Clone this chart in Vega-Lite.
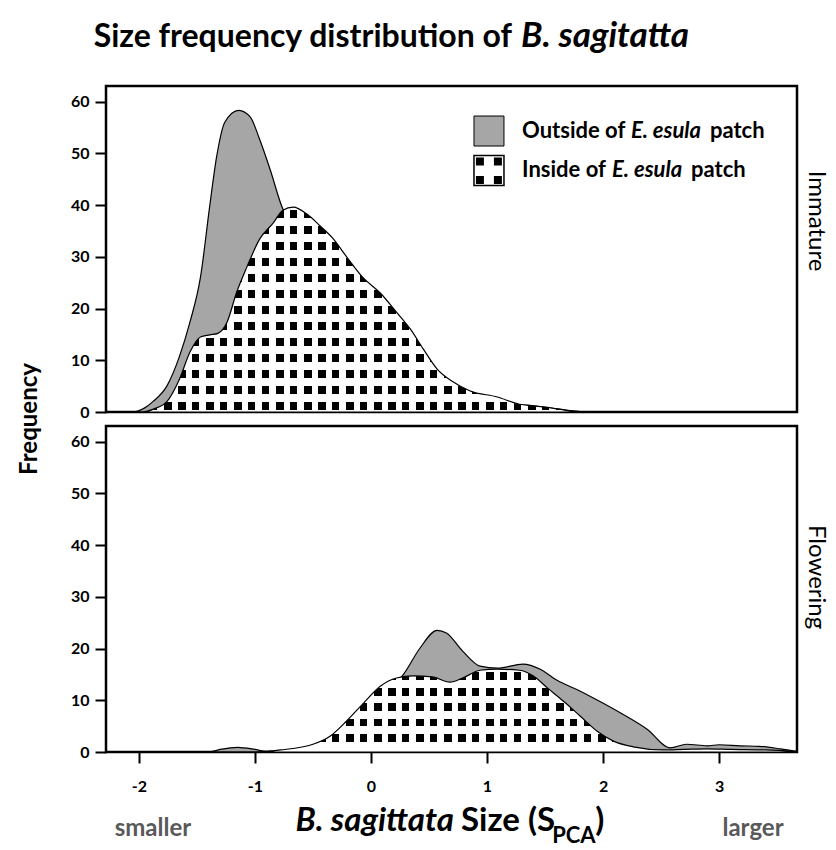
{
"$schema": "https://vega.github.io/schema/vega-lite/v6.json",
"background": "white",
"padding": {"left": 16, "top": 17, "right": 12, "bottom": 4},
"spacing": 14,
"bounds": "flush",
"config": {
  "font": "Lato",
  "view": {"stroke": "black", "strokeWidth": 2.5},
  "axis": {"labelFont": "Lato", "labelFontWeight": "bold", "labelFontSize": 16, "labelColor": "black", "tickColor": "black", "tickWidth": 2, "tickSize": 11, "domain": false, "grid": false, "title": null},
  "text": {"font": "Lato"}
},
"datasets": {
  "imm": [
    {"g":"Outside","x":-2.284,"y":0},{"g":"Outside","x":-2.05,"y":0},{"g":"Outside","x":-1.95,"y":0.8},{"g":"Outside","x":-1.88,"y":2},{"g":"Outside","x":-1.76,"y":5},{"g":"Outside","x":-1.65,"y":10.8},{"g":"Outside","x":-1.56,"y":17.4},{"g":"Outside","x":-1.47,"y":26},{"g":"Outside","x":-1.39,"y":39.8},{"g":"Outside","x":-1.33,"y":49.4},{"g":"Outside","x":-1.26,"y":56},{"g":"Outside","x":-1.14,"y":58.3},{"g":"Outside","x":-1.04,"y":57},{"g":"Outside","x":-0.96,"y":52.7},{"g":"Outside","x":-0.87,"y":46.9},{"g":"Outside","x":-0.77,"y":39.8},{"g":"Outside","x":-0.6,"y":33},{"g":"Outside","x":-0.4,"y":27},{"g":"Outside","x":-0.2,"y":22},{"g":"Outside","x":0,"y":18},{"g":"Outside","x":0.2,"y":13},{"g":"Outside","x":0.4,"y":9},{"g":"Outside","x":0.6,"y":5.5},{"g":"Outside","x":0.8,"y":3.5},{"g":"Outside","x":1.0,"y":2.5},{"g":"Outside","x":1.2,"y":1.5},{"g":"Outside","x":1.4,"y":1.2},{"g":"Outside","x":1.6,"y":0.6},{"g":"Outside","x":1.8,"y":0.1},{"g":"Outside","x":2.0,"y":0},{"g":"Outside","x":3.672,"y":0},
    {"g":"Inside","x":-2.284,"y":0},{"g":"Inside","x":-1.97,"y":0},{"g":"Inside","x":-1.87,"y":0.6},{"g":"Inside","x":-1.76,"y":2},{"g":"Inside","x":-1.65,"y":6.4},{"g":"Inside","x":-1.56,"y":11.6},{"g":"Inside","x":-1.47,"y":14.5},{"g":"Inside","x":-1.39,"y":14.9},{"g":"Inside","x":-1.32,"y":15.2},{"g":"Inside","x":-1.24,"y":17.4},{"g":"Inside","x":-1.16,"y":23},{"g":"Inside","x":-1.07,"y":28},{"g":"Inside","x":-0.96,"y":33.4},{"g":"Inside","x":-0.84,"y":36.6},{"g":"Inside","x":-0.76,"y":39},{"g":"Inside","x":-0.67,"y":39.6},{"g":"Inside","x":-0.55,"y":38.2},{"g":"Inside","x":-0.44,"y":36},{"g":"Inside","x":-0.33,"y":33.6},{"g":"Inside","x":-0.21,"y":30},{"g":"Inside","x":-0.07,"y":26},{"g":"Inside","x":0.08,"y":23},{"g":"Inside","x":0.22,"y":19.3},{"g":"Inside","x":0.34,"y":16},{"g":"Inside","x":0.45,"y":12.2},{"g":"Inside","x":0.57,"y":8.3},{"g":"Inside","x":0.71,"y":5.8},{"g":"Inside","x":0.85,"y":4.1},{"g":"Inside","x":1.09,"y":2.9},{"g":"Inside","x":1.28,"y":1.5},{"g":"Inside","x":1.4,"y":1.2},{"g":"Inside","x":1.52,"y":0.9},{"g":"Inside","x":1.72,"y":0.2},{"g":"Inside","x":1.8,"y":0},{"g":"Inside","x":3.672,"y":0}
  ],
  "flw": [
    {"g":"Outside","x":-2.284,"y":0},{"g":"Outside","x":-1.4,"y":0},{"g":"Outside","x":-1.3,"y":0.5},{"g":"Outside","x":-1.15,"y":0.9},{"g":"Outside","x":-1.0,"y":0.5},{"g":"Outside","x":-0.9,"y":0.1},{"g":"Outside","x":-0.8,"y":0.2},{"g":"Outside","x":-0.5,"y":1},{"g":"Outside","x":-0.2,"y":4},{"g":"Outside","x":0,"y":8},{"g":"Outside","x":0.15,"y":12},{"g":"Outside","x":0.28,"y":15},{"g":"Outside","x":0.42,"y":20},{"g":"Outside","x":0.57,"y":23.5},{"g":"Outside","x":0.65,"y":23},{"g":"Outside","x":0.79,"y":19.5},{"g":"Outside","x":0.94,"y":16.6},{"g":"Outside","x":1.09,"y":16.2},{"g":"Outside","x":1.31,"y":17},{"g":"Outside","x":1.46,"y":16},{"g":"Outside","x":1.6,"y":13.9},{"g":"Outside","x":1.8,"y":11.8},{"g":"Outside","x":1.97,"y":9.8},{"g":"Outside","x":2.17,"y":7.3},{"g":"Outside","x":2.38,"y":4.4},{"g":"Outside","x":2.58,"y":0.8},{"g":"Outside","x":2.72,"y":1.5},{"g":"Outside","x":2.9,"y":1.2},{"g":"Outside","x":3.0,"y":1.4},{"g":"Outside","x":3.18,"y":1.2},{"g":"Outside","x":3.35,"y":1.1},{"g":"Outside","x":3.53,"y":0.6},{"g":"Outside","x":3.672,"y":0.1},
    {"g":"Inside","x":-2.284,"y":0},{"g":"Inside","x":-1.0,"y":0},{"g":"Inside","x":-0.78,"y":0.4},{"g":"Inside","x":-0.5,"y":1.5},{"g":"Inside","x":-0.35,"y":3.1},{"g":"Inside","x":-0.21,"y":6},{"g":"Inside","x":-0.07,"y":9.3},{"g":"Inside","x":0.08,"y":12.7},{"g":"Inside","x":0.22,"y":14.3},{"g":"Inside","x":0.36,"y":14.7},{"g":"Inside","x":0.53,"y":14.5},{"g":"Inside","x":0.68,"y":13.5},{"g":"Inside","x":0.79,"y":14.3},{"g":"Inside","x":0.94,"y":15.8},{"g":"Inside","x":1.09,"y":16},{"g":"Inside","x":1.28,"y":15.8},{"g":"Inside","x":1.4,"y":14.7},{"g":"Inside","x":1.52,"y":12.4},{"g":"Inside","x":1.66,"y":9.8},{"g":"Inside","x":1.8,"y":7},{"g":"Inside","x":1.95,"y":4},{"g":"Inside","x":2.09,"y":2.1},{"g":"Inside","x":2.26,"y":1},{"g":"Inside","x":2.52,"y":0.4},{"g":"Inside","x":2.7,"y":0.5},{"g":"Inside","x":2.9,"y":0.6},{"g":"Inside","x":3.1,"y":0.5},{"g":"Inside","x":3.4,"y":0.4},{"g":"Inside","x":3.672,"y":0.1}
  ]
},
"vconcat": [
{
  "width": 691, "height": 326,
  "layer": [
    {"data": {"name": "imm"}, "transform": [{"filter": "datum.g === 'Outside'"}],
     "mark": {"type": "area", "interpolate": "monotone", "fill": "#a6a6a6", "stroke": "black", "strokeWidth": 1.2},
     "encoding": {
       "x": {"field": "x", "type": "quantitative", "scale": {"domain": [-2.284, 3.672], "nice": false, "zero": false}, "axis": null},
       "y": {"field": "y", "type": "quantitative", "scale": {"domain": [0, 63], "nice": false}, "axis": {"values": [0,10,20,30,40,50,60], "labelPadding": 6}}
     }},
    {"data": {"name": "imm"}, "transform": [{"filter": "datum.g === 'Inside'"}],
     "mark": {"type": "area", "interpolate": "monotone", "strokeWidth": 0,
       "fill": {"gradient": "linear", "x1": 0, "y1": 1, "x2": 0, "y2": 0, "stops": [
         {"offset":0,"color":"white"},
         {"offset":0.0112,"color":"white"},{"offset":0.0112,"color":"black"},{"offset":0.0503,"color":"black"},{"offset":0.0503,"color":"white"},
         {"offset":0.0893,"color":"white"},{"offset":0.0893,"color":"black"},{"offset":0.1284,"color":"black"},{"offset":0.1284,"color":"white"},
         {"offset":0.1674,"color":"white"},{"offset":0.1674,"color":"black"},{"offset":0.2064,"color":"black"},{"offset":0.2064,"color":"white"},
         {"offset":0.2455,"color":"white"},{"offset":0.2455,"color":"black"},{"offset":0.2845,"color":"black"},{"offset":0.2845,"color":"white"},
         {"offset":0.3236,"color":"white"},{"offset":0.3236,"color":"black"},{"offset":0.3626,"color":"black"},{"offset":0.3626,"color":"white"},
         {"offset":0.4017,"color":"white"},{"offset":0.4017,"color":"black"},{"offset":0.4407,"color":"black"},{"offset":0.4407,"color":"white"},
         {"offset":0.4798,"color":"white"},{"offset":0.4798,"color":"black"},{"offset":0.5188,"color":"black"},{"offset":0.5188,"color":"white"},
         {"offset":0.5579,"color":"white"},{"offset":0.5579,"color":"black"},{"offset":0.5969,"color":"black"},{"offset":0.5969,"color":"white"},
         {"offset":0.6359,"color":"white"},{"offset":0.6359,"color":"black"},{"offset":0.6750,"color":"black"},{"offset":0.6750,"color":"white"},
         {"offset":0.7140,"color":"white"},{"offset":0.7140,"color":"black"},{"offset":0.7531,"color":"black"},{"offset":0.7531,"color":"white"},
         {"offset":0.7921,"color":"white"},{"offset":0.7921,"color":"black"},{"offset":0.8312,"color":"black"},{"offset":0.8312,"color":"white"},
         {"offset":0.8702,"color":"white"},{"offset":0.8702,"color":"black"},{"offset":0.9092,"color":"black"},{"offset":0.9092,"color":"white"},
         {"offset":0.9483,"color":"white"},{"offset":0.9483,"color":"black"},{"offset":0.9873,"color":"black"},{"offset":0.9873,"color":"white"},
         {"offset":1,"color":"white"}]}},
     "encoding": {"x": {"field": "x", "type": "quantitative"}, "y": {"field": "y", "type": "quantitative"}}},
    {"data": {"name": "imm"}, "transform": [{"filter": "datum.g === 'Inside'"}],
     "mark": {"type": "area", "interpolate": "monotone", "stroke": "black", "strokeWidth": 1.2,
       "fill": {"gradient": "linear", "x1": 0, "y1": 0, "x2": 1, "y2": 0, "stops": [
         {"offset":0,"color":"white"},
         {"offset":0.0029,"color":"white"},{"offset":0.0029,"color":"rgba(255,255,255,0)"},{"offset":0.0137,"color":"rgba(255,255,255,0)"},{"offset":0.0137,"color":"white"},
         {"offset":0.0232,"color":"white"},{"offset":0.0232,"color":"rgba(255,255,255,0)"},{"offset":0.0340,"color":"rgba(255,255,255,0)"},{"offset":0.0340,"color":"white"},
         {"offset":0.0434,"color":"white"},{"offset":0.0434,"color":"rgba(255,255,255,0)"},{"offset":0.0543,"color":"rgba(255,255,255,0)"},{"offset":0.0543,"color":"white"},
         {"offset":0.0637,"color":"white"},{"offset":0.0637,"color":"rgba(255,255,255,0)"},{"offset":0.0745,"color":"rgba(255,255,255,0)"},{"offset":0.0745,"color":"white"},
         {"offset":0.0839,"color":"white"},{"offset":0.0839,"color":"rgba(255,255,255,0)"},{"offset":0.0948,"color":"rgba(255,255,255,0)"},{"offset":0.0948,"color":"white"},
         {"offset":0.1042,"color":"white"},{"offset":0.1042,"color":"rgba(255,255,255,0)"},{"offset":0.1151,"color":"rgba(255,255,255,0)"},{"offset":0.1151,"color":"white"},
         {"offset":0.1245,"color":"white"},{"offset":0.1245,"color":"rgba(255,255,255,0)"},{"offset":0.1353,"color":"rgba(255,255,255,0)"},{"offset":0.1353,"color":"white"},
         {"offset":0.1447,"color":"white"},{"offset":0.1447,"color":"rgba(255,255,255,0)"},{"offset":0.1556,"color":"rgba(255,255,255,0)"},{"offset":0.1556,"color":"white"},
         {"offset":0.1650,"color":"white"},{"offset":0.1650,"color":"rgba(255,255,255,0)"},{"offset":0.1758,"color":"rgba(255,255,255,0)"},{"offset":0.1758,"color":"white"},
         {"offset":0.1852,"color":"white"},{"offset":0.1852,"color":"rgba(255,255,255,0)"},{"offset":0.1961,"color":"rgba(255,255,255,0)"},{"offset":0.1961,"color":"white"},
         {"offset":0.2055,"color":"white"},{"offset":0.2055,"color":"rgba(255,255,255,0)"},{"offset":0.2163,"color":"rgba(255,255,255,0)"},{"offset":0.2163,"color":"white"},
         {"offset":0.2258,"color":"white"},{"offset":0.2258,"color":"rgba(255,255,255,0)"},{"offset":0.2366,"color":"rgba(255,255,255,0)"},{"offset":0.2366,"color":"white"},
         {"offset":0.2460,"color":"white"},{"offset":0.2460,"color":"rgba(255,255,255,0)"},{"offset":0.2569,"color":"rgba(255,255,255,0)"},{"offset":0.2569,"color":"white"},
         {"offset":0.2663,"color":"white"},{"offset":0.2663,"color":"rgba(255,255,255,0)"},{"offset":0.2771,"color":"rgba(255,255,255,0)"},{"offset":0.2771,"color":"white"},
         {"offset":0.2865,"color":"white"},{"offset":0.2865,"color":"rgba(255,255,255,0)"},{"offset":0.2974,"color":"rgba(255,255,255,0)"},{"offset":0.2974,"color":"white"},
         {"offset":0.3068,"color":"white"},{"offset":0.3068,"color":"rgba(255,255,255,0)"},{"offset":0.3177,"color":"rgba(255,255,255,0)"},{"offset":0.3177,"color":"white"},
         {"offset":0.3271,"color":"white"},{"offset":0.3271,"color":"rgba(255,255,255,0)"},{"offset":0.3379,"color":"rgba(255,255,255,0)"},{"offset":0.3379,"color":"white"},
         {"offset":0.3473,"color":"white"},{"offset":0.3473,"color":"rgba(255,255,255,0)"},{"offset":0.3582,"color":"rgba(255,255,255,0)"},{"offset":0.3582,"color":"white"},
         {"offset":0.3676,"color":"white"},{"offset":0.3676,"color":"rgba(255,255,255,0)"},{"offset":0.3784,"color":"rgba(255,255,255,0)"},{"offset":0.3784,"color":"white"},
         {"offset":0.3878,"color":"white"},{"offset":0.3878,"color":"rgba(255,255,255,0)"},{"offset":0.3987,"color":"rgba(255,255,255,0)"},{"offset":0.3987,"color":"white"},
         {"offset":0.4081,"color":"white"},{"offset":0.4081,"color":"rgba(255,255,255,0)"},{"offset":0.4190,"color":"rgba(255,255,255,0)"},{"offset":0.4190,"color":"white"},
         {"offset":0.4284,"color":"white"},{"offset":0.4284,"color":"rgba(255,255,255,0)"},{"offset":0.4392,"color":"rgba(255,255,255,0)"},{"offset":0.4392,"color":"white"},
         {"offset":0.4486,"color":"white"},{"offset":0.4486,"color":"rgba(255,255,255,0)"},{"offset":0.4595,"color":"rgba(255,255,255,0)"},{"offset":0.4595,"color":"white"},
         {"offset":0.4689,"color":"white"},{"offset":0.4689,"color":"rgba(255,255,255,0)"},{"offset":0.4797,"color":"rgba(255,255,255,0)"},{"offset":0.4797,"color":"white"},
         {"offset":0.4891,"color":"white"},{"offset":0.4891,"color":"rgba(255,255,255,0)"},{"offset":0.5000,"color":"rgba(255,255,255,0)"},{"offset":0.5000,"color":"white"},
         {"offset":0.5094,"color":"white"},{"offset":0.5094,"color":"rgba(255,255,255,0)"},{"offset":0.5203,"color":"rgba(255,255,255,0)"},{"offset":0.5203,"color":"white"},
         {"offset":0.5297,"color":"white"},{"offset":0.5297,"color":"rgba(255,255,255,0)"},{"offset":0.5405,"color":"rgba(255,255,255,0)"},{"offset":0.5405,"color":"white"},
         {"offset":0.5499,"color":"white"},{"offset":0.5499,"color":"rgba(255,255,255,0)"},{"offset":0.5608,"color":"rgba(255,255,255,0)"},{"offset":0.5608,"color":"white"},
         {"offset":0.5702,"color":"white"},{"offset":0.5702,"color":"rgba(255,255,255,0)"},{"offset":0.5810,"color":"rgba(255,255,255,0)"},{"offset":0.5810,"color":"white"},
         {"offset":0.5904,"color":"white"},{"offset":0.5904,"color":"rgba(255,255,255,0)"},{"offset":0.6013,"color":"rgba(255,255,255,0)"},{"offset":0.6013,"color":"white"},
         {"offset":0.6107,"color":"white"},{"offset":0.6107,"color":"rgba(255,255,255,0)"},{"offset":0.6216,"color":"rgba(255,255,255,0)"},{"offset":0.6216,"color":"white"},
         {"offset":0.6310,"color":"white"},{"offset":0.6310,"color":"rgba(255,255,255,0)"},{"offset":0.6418,"color":"rgba(255,255,255,0)"},{"offset":0.6418,"color":"white"},
         {"offset":0.6512,"color":"white"},{"offset":0.6512,"color":"rgba(255,255,255,0)"},{"offset":0.6621,"color":"rgba(255,255,255,0)"},{"offset":0.6621,"color":"white"},
         {"offset":0.6715,"color":"white"},{"offset":0.6715,"color":"rgba(255,255,255,0)"},{"offset":0.6823,"color":"rgba(255,255,255,0)"},{"offset":0.6823,"color":"white"},
         {"offset":0.6918,"color":"white"},{"offset":0.6918,"color":"rgba(255,255,255,0)"},{"offset":0.7026,"color":"rgba(255,255,255,0)"},{"offset":0.7026,"color":"white"},
         {"offset":0.7120,"color":"white"},{"offset":0.7120,"color":"rgba(255,255,255,0)"},{"offset":0.7229,"color":"rgba(255,255,255,0)"},{"offset":0.7229,"color":"white"},
         {"offset":0.7323,"color":"white"},{"offset":0.7323,"color":"rgba(255,255,255,0)"},{"offset":0.7431,"color":"rgba(255,255,255,0)"},{"offset":0.7431,"color":"white"},
         {"offset":0.7525,"color":"white"},{"offset":0.7525,"color":"rgba(255,255,255,0)"},{"offset":0.7634,"color":"rgba(255,255,255,0)"},{"offset":0.7634,"color":"white"},
         {"offset":0.7728,"color":"white"},{"offset":0.7728,"color":"rgba(255,255,255,0)"},{"offset":0.7836,"color":"rgba(255,255,255,0)"},{"offset":0.7836,"color":"white"},
         {"offset":0.7931,"color":"white"},{"offset":0.7931,"color":"rgba(255,255,255,0)"},{"offset":0.8039,"color":"rgba(255,255,255,0)"},{"offset":0.8039,"color":"white"},
         {"offset":0.8133,"color":"white"},{"offset":0.8133,"color":"rgba(255,255,255,0)"},{"offset":0.8242,"color":"rgba(255,255,255,0)"},{"offset":0.8242,"color":"white"},
         {"offset":0.8336,"color":"white"},{"offset":0.8336,"color":"rgba(255,255,255,0)"},{"offset":0.8444,"color":"rgba(255,255,255,0)"},{"offset":0.8444,"color":"white"},
         {"offset":0.8538,"color":"white"},{"offset":0.8538,"color":"rgba(255,255,255,0)"},{"offset":0.8647,"color":"rgba(255,255,255,0)"},{"offset":0.8647,"color":"white"},
         {"offset":0.8741,"color":"white"},{"offset":0.8741,"color":"rgba(255,255,255,0)"},{"offset":0.8850,"color":"rgba(255,255,255,0)"},{"offset":0.8850,"color":"white"},
         {"offset":0.8944,"color":"white"},{"offset":0.8944,"color":"rgba(255,255,255,0)"},{"offset":0.9052,"color":"rgba(255,255,255,0)"},{"offset":0.9052,"color":"white"},
         {"offset":0.9146,"color":"white"},{"offset":0.9146,"color":"rgba(255,255,255,0)"},{"offset":0.9255,"color":"rgba(255,255,255,0)"},{"offset":0.9255,"color":"white"},
         {"offset":0.9349,"color":"white"},{"offset":0.9349,"color":"rgba(255,255,255,0)"},{"offset":0.9457,"color":"rgba(255,255,255,0)"},{"offset":0.9457,"color":"white"},
         {"offset":0.9551,"color":"white"},{"offset":0.9551,"color":"rgba(255,255,255,0)"},{"offset":0.9660,"color":"rgba(255,255,255,0)"},{"offset":0.9660,"color":"white"},
         {"offset":0.9754,"color":"white"},{"offset":0.9754,"color":"rgba(255,255,255,0)"},{"offset":0.9863,"color":"rgba(255,255,255,0)"},{"offset":0.9863,"color":"white"},
         {"offset":0.9957,"color":"white"},{"offset":0.9957,"color":"rgba(255,255,255,0)"},{"offset":1,"color":"rgba(255,255,255,0)"}]}},
     "encoding": {"x": {"field": "x", "type": "quantitative"}, "y": {"field": "y", "type": "quantitative"}}},
    {"data": {"values": [{}]}, "mark": {"type": "point", "shape": "square", "size": 900, "filled": true, "fill": "#a6a6a6", "stroke": "black", "strokeWidth": 1, "opacity": 1},
     "encoding": {"x": {"datum": 1.017, "type": "quantitative"}, "y": {"datum": 54.3, "type": "quantitative"}}},
    {"data": {"values": [{}]}, "mark": {"type": "point", "shape": "square", "size": 900, "filled": true, "fill": "white", "stroke": "black", "strokeWidth": 1.5, "opacity": 1},
     "encoding": {"x": {"datum": 1.017, "type": "quantitative"}, "y": {"datum": 46.67, "type": "quantitative"}}},
    {"data": {"values": [{}]}, "mark": {"type": "point", "shape": "square", "size": 64, "filled": true, "fill": "black", "opacity": 1},
     "encoding": {"x": {"datum": 0.939, "type": "quantitative"}, "y": {"datum": 48.41, "type": "quantitative"}}},
    {"data": {"values": [{}]}, "mark": {"type": "point", "shape": "square", "size": 64, "filled": true, "fill": "black", "opacity": 1},
     "encoding": {"x": {"datum": 1.094, "type": "quantitative"}, "y": {"datum": 48.41, "type": "quantitative"}}},
    {"data": {"values": [{}]}, "mark": {"type": "point", "shape": "square", "size": 64, "filled": true, "fill": "black", "opacity": 1},
     "encoding": {"x": {"datum": 0.939, "type": "quantitative"}, "y": {"datum": 44.83, "type": "quantitative"}}},
    {"data": {"values": [{}]}, "mark": {"type": "point", "shape": "square", "size": 64, "filled": true, "fill": "black", "opacity": 1},
     "encoding": {"x": {"datum": 1.094, "type": "quantitative"}, "y": {"datum": 44.83, "type": "quantitative"}}},
    {"data": {"values": [{}]}, "mark": {"type": "text", "text": "Outside of", "align": "left", "baseline": "middle", "fontSize": 22, "fontWeight": "bold"},
     "encoding": {"x": {"datum": 1.302, "type": "quantitative"}, "y": {"datum": 54.3, "type": "quantitative"}}},
    {"data": {"values": [{}]}, "mark": {"type": "text", "text": "E. esula", "align": "left", "baseline": "middle", "fontSize": 22, "fontWeight": "bold", "fontStyle": "italic"},
     "encoding": {"x": {"datum": 2.241, "type": "quantitative"}, "y": {"datum": 54.3, "type": "quantitative"}}},
    {"data": {"values": [{}]}, "mark": {"type": "text", "text": "patch", "align": "left", "baseline": "middle", "fontSize": 22, "fontWeight": "bold"},
     "encoding": {"x": {"datum": 2.922, "type": "quantitative"}, "y": {"datum": 54.3, "type": "quantitative"}}},
    {"data": {"values": [{}]}, "mark": {"type": "text", "text": "Inside of", "align": "left", "baseline": "middle", "fontSize": 22, "fontWeight": "bold"},
     "encoding": {"x": {"datum": 1.302, "type": "quantitative"}, "y": {"datum": 46.77, "type": "quantitative"}}},
    {"data": {"values": [{}]}, "mark": {"type": "text", "text": "E. esula", "align": "left", "baseline": "middle", "fontSize": 22, "fontWeight": "bold", "fontStyle": "italic"},
     "encoding": {"x": {"datum": 2.078, "type": "quantitative"}, "y": {"datum": 46.77, "type": "quantitative"}}},
    {"data": {"values": [{}]}, "mark": {"type": "text", "text": "patch", "align": "left", "baseline": "middle", "fontSize": 22, "fontWeight": "bold"},
     "encoding": {"x": {"datum": 2.759, "type": "quantitative"}, "y": {"datum": 46.77, "type": "quantitative"}}},
    {"data": {"values": [{}]}, "mark": {"type": "text", "text": "Size frequency distribution of", "align": "right", "baseline": "alphabetic", "fontSize": 32, "fontWeight": "bold"},
     "encoding": {"x": {"datum": 1.2155, "type": "quantitative"}, "y": {"datum": 70.5, "type": "quantitative"}}},
    {"data": {"values": [{}]}, "mark": {"type": "text", "text": "B. sagitatta", "align": "left", "baseline": "alphabetic", "fontSize": 35, "fontWeight": "bold", "fontStyle": "italic"},
     "encoding": {"x": {"datum": 1.293, "type": "quantitative"}, "y": {"datum": 70.5, "type": "quantitative"}}},
    {"data": {"values": [{}]}, "mark": {"type": "text", "text": "Frequency", "align": "center", "baseline": "middle", "angle": 270, "fontSize": 24, "fontWeight": "bold"},
     "encoding": {"x": {"datum": -2.94, "type": "quantitative"}, "y": {"datum": -1.35, "type": "quantitative"}}},
    {"data": {"values": [{}]}, "mark": {"type": "text", "text": "Immature", "align": "center", "baseline": "middle", "angle": 90, "fontSize": 24},
     "encoding": {"x": {"datum": 3.84, "type": "quantitative"}, "y": {"datum": 36.9, "type": "quantitative"}}}
  ]
},
{
  "width": 691, "height": 326,
  "layer": [
    {"data": {"name": "flw"}, "transform": [{"filter": "datum.g === 'Outside'"}],
     "mark": {"type": "area", "interpolate": "monotone", "fill": "#a6a6a6", "stroke": "black", "strokeWidth": 1.2},
     "encoding": {
       "x": {"field": "x", "type": "quantitative", "scale": {"domain": [-2.284, 3.672], "nice": false, "zero": false}, "axis": {"values": [-2,-1,0,1,2,3], "labelExpr": "'' + datum.value", "labelPadding": 15, "labelFontSize": 16}},
       "y": {"field": "y", "type": "quantitative", "scale": {"domain": [0, 63], "nice": false}, "axis": {"values": [0,10,20,30,40,50,60], "labelPadding": 6}}
     }},
    {"data": {"name": "flw"}, "transform": [{"filter": "datum.g === 'Inside'"}],
     "mark": {"type": "area", "interpolate": "monotone", "strokeWidth": 0,
       "fill": {"gradient": "linear", "x1": 0, "y1": 1, "x2": 0, "y2": 0, "stops": [
         {"offset":0,"color":"white"},
         {"offset":0.1208,"color":"white"},{"offset":0.1208,"color":"black"},{"offset":0.2174,"color":"black"},{"offset":0.2174,"color":"white"},
         {"offset":0.3080,"color":"white"},{"offset":0.3080,"color":"black"},{"offset":0.4046,"color":"black"},{"offset":0.4046,"color":"white"},
         {"offset":0.4952,"color":"white"},{"offset":0.4952,"color":"black"},{"offset":0.5918,"color":"black"},{"offset":0.5918,"color":"white"},
         {"offset":0.6824,"color":"white"},{"offset":0.6824,"color":"black"},{"offset":0.7790,"color":"black"},{"offset":0.7790,"color":"white"},
         {"offset":0.8696,"color":"white"},{"offset":0.8696,"color":"black"},{"offset":0.9662,"color":"black"},{"offset":0.9662,"color":"white"},
         {"offset":1,"color":"white"}]}},
     "encoding": {"x": {"field": "x", "type": "quantitative"}, "y": {"field": "y", "type": "quantitative"}}},
    {"data": {"name": "flw"}, "transform": [{"filter": "datum.g === 'Inside'"}],
     "mark": {"type": "area", "interpolate": "monotone", "stroke": "black", "strokeWidth": 1.2,
       "fill": {"gradient": "linear", "x1": 0, "y1": 0, "x2": 1, "y2": 0, "stops": [
         {"offset":0,"color":"white"},
         {"offset":0.0029,"color":"white"},{"offset":0.0029,"color":"rgba(255,255,255,0)"},{"offset":0.0137,"color":"rgba(255,255,255,0)"},{"offset":0.0137,"color":"white"},
         {"offset":0.0232,"color":"white"},{"offset":0.0232,"color":"rgba(255,255,255,0)"},{"offset":0.0340,"color":"rgba(255,255,255,0)"},{"offset":0.0340,"color":"white"},
         {"offset":0.0434,"color":"white"},{"offset":0.0434,"color":"rgba(255,255,255,0)"},{"offset":0.0543,"color":"rgba(255,255,255,0)"},{"offset":0.0543,"color":"white"},
         {"offset":0.0637,"color":"white"},{"offset":0.0637,"color":"rgba(255,255,255,0)"},{"offset":0.0745,"color":"rgba(255,255,255,0)"},{"offset":0.0745,"color":"white"},
         {"offset":0.0839,"color":"white"},{"offset":0.0839,"color":"rgba(255,255,255,0)"},{"offset":0.0948,"color":"rgba(255,255,255,0)"},{"offset":0.0948,"color":"white"},
         {"offset":0.1042,"color":"white"},{"offset":0.1042,"color":"rgba(255,255,255,0)"},{"offset":0.1151,"color":"rgba(255,255,255,0)"},{"offset":0.1151,"color":"white"},
         {"offset":0.1245,"color":"white"},{"offset":0.1245,"color":"rgba(255,255,255,0)"},{"offset":0.1353,"color":"rgba(255,255,255,0)"},{"offset":0.1353,"color":"white"},
         {"offset":0.1447,"color":"white"},{"offset":0.1447,"color":"rgba(255,255,255,0)"},{"offset":0.1556,"color":"rgba(255,255,255,0)"},{"offset":0.1556,"color":"white"},
         {"offset":0.1650,"color":"white"},{"offset":0.1650,"color":"rgba(255,255,255,0)"},{"offset":0.1758,"color":"rgba(255,255,255,0)"},{"offset":0.1758,"color":"white"},
         {"offset":0.1852,"color":"white"},{"offset":0.1852,"color":"rgba(255,255,255,0)"},{"offset":0.1961,"color":"rgba(255,255,255,0)"},{"offset":0.1961,"color":"white"},
         {"offset":0.2055,"color":"white"},{"offset":0.2055,"color":"rgba(255,255,255,0)"},{"offset":0.2163,"color":"rgba(255,255,255,0)"},{"offset":0.2163,"color":"white"},
         {"offset":0.2258,"color":"white"},{"offset":0.2258,"color":"rgba(255,255,255,0)"},{"offset":0.2366,"color":"rgba(255,255,255,0)"},{"offset":0.2366,"color":"white"},
         {"offset":0.2460,"color":"white"},{"offset":0.2460,"color":"rgba(255,255,255,0)"},{"offset":0.2569,"color":"rgba(255,255,255,0)"},{"offset":0.2569,"color":"white"},
         {"offset":0.2663,"color":"white"},{"offset":0.2663,"color":"rgba(255,255,255,0)"},{"offset":0.2771,"color":"rgba(255,255,255,0)"},{"offset":0.2771,"color":"white"},
         {"offset":0.2865,"color":"white"},{"offset":0.2865,"color":"rgba(255,255,255,0)"},{"offset":0.2974,"color":"rgba(255,255,255,0)"},{"offset":0.2974,"color":"white"},
         {"offset":0.3068,"color":"white"},{"offset":0.3068,"color":"rgba(255,255,255,0)"},{"offset":0.3177,"color":"rgba(255,255,255,0)"},{"offset":0.3177,"color":"white"},
         {"offset":0.3271,"color":"white"},{"offset":0.3271,"color":"rgba(255,255,255,0)"},{"offset":0.3379,"color":"rgba(255,255,255,0)"},{"offset":0.3379,"color":"white"},
         {"offset":0.3473,"color":"white"},{"offset":0.3473,"color":"rgba(255,255,255,0)"},{"offset":0.3582,"color":"rgba(255,255,255,0)"},{"offset":0.3582,"color":"white"},
         {"offset":0.3676,"color":"white"},{"offset":0.3676,"color":"rgba(255,255,255,0)"},{"offset":0.3784,"color":"rgba(255,255,255,0)"},{"offset":0.3784,"color":"white"},
         {"offset":0.3878,"color":"white"},{"offset":0.3878,"color":"rgba(255,255,255,0)"},{"offset":0.3987,"color":"rgba(255,255,255,0)"},{"offset":0.3987,"color":"white"},
         {"offset":0.4081,"color":"white"},{"offset":0.4081,"color":"rgba(255,255,255,0)"},{"offset":0.4190,"color":"rgba(255,255,255,0)"},{"offset":0.4190,"color":"white"},
         {"offset":0.4284,"color":"white"},{"offset":0.4284,"color":"rgba(255,255,255,0)"},{"offset":0.4392,"color":"rgba(255,255,255,0)"},{"offset":0.4392,"color":"white"},
         {"offset":0.4486,"color":"white"},{"offset":0.4486,"color":"rgba(255,255,255,0)"},{"offset":0.4595,"color":"rgba(255,255,255,0)"},{"offset":0.4595,"color":"white"},
         {"offset":0.4689,"color":"white"},{"offset":0.4689,"color":"rgba(255,255,255,0)"},{"offset":0.4797,"color":"rgba(255,255,255,0)"},{"offset":0.4797,"color":"white"},
         {"offset":0.4891,"color":"white"},{"offset":0.4891,"color":"rgba(255,255,255,0)"},{"offset":0.5000,"color":"rgba(255,255,255,0)"},{"offset":0.5000,"color":"white"},
         {"offset":0.5094,"color":"white"},{"offset":0.5094,"color":"rgba(255,255,255,0)"},{"offset":0.5203,"color":"rgba(255,255,255,0)"},{"offset":0.5203,"color":"white"},
         {"offset":0.5297,"color":"white"},{"offset":0.5297,"color":"rgba(255,255,255,0)"},{"offset":0.5405,"color":"rgba(255,255,255,0)"},{"offset":0.5405,"color":"white"},
         {"offset":0.5499,"color":"white"},{"offset":0.5499,"color":"rgba(255,255,255,0)"},{"offset":0.5608,"color":"rgba(255,255,255,0)"},{"offset":0.5608,"color":"white"},
         {"offset":0.5702,"color":"white"},{"offset":0.5702,"color":"rgba(255,255,255,0)"},{"offset":0.5810,"color":"rgba(255,255,255,0)"},{"offset":0.5810,"color":"white"},
         {"offset":0.5904,"color":"white"},{"offset":0.5904,"color":"rgba(255,255,255,0)"},{"offset":0.6013,"color":"rgba(255,255,255,0)"},{"offset":0.6013,"color":"white"},
         {"offset":0.6107,"color":"white"},{"offset":0.6107,"color":"rgba(255,255,255,0)"},{"offset":0.6216,"color":"rgba(255,255,255,0)"},{"offset":0.6216,"color":"white"},
         {"offset":0.6310,"color":"white"},{"offset":0.6310,"color":"rgba(255,255,255,0)"},{"offset":0.6418,"color":"rgba(255,255,255,0)"},{"offset":0.6418,"color":"white"},
         {"offset":0.6512,"color":"white"},{"offset":0.6512,"color":"rgba(255,255,255,0)"},{"offset":0.6621,"color":"rgba(255,255,255,0)"},{"offset":0.6621,"color":"white"},
         {"offset":0.6715,"color":"white"},{"offset":0.6715,"color":"rgba(255,255,255,0)"},{"offset":0.6823,"color":"rgba(255,255,255,0)"},{"offset":0.6823,"color":"white"},
         {"offset":0.6918,"color":"white"},{"offset":0.6918,"color":"rgba(255,255,255,0)"},{"offset":0.7026,"color":"rgba(255,255,255,0)"},{"offset":0.7026,"color":"white"},
         {"offset":0.7120,"color":"white"},{"offset":0.7120,"color":"rgba(255,255,255,0)"},{"offset":0.7229,"color":"rgba(255,255,255,0)"},{"offset":0.7229,"color":"white"},
         {"offset":0.7323,"color":"white"},{"offset":0.7323,"color":"rgba(255,255,255,0)"},{"offset":0.7431,"color":"rgba(255,255,255,0)"},{"offset":0.7431,"color":"white"},
         {"offset":0.7525,"color":"white"},{"offset":0.7525,"color":"rgba(255,255,255,0)"},{"offset":0.7634,"color":"rgba(255,255,255,0)"},{"offset":0.7634,"color":"white"},
         {"offset":0.7728,"color":"white"},{"offset":0.7728,"color":"rgba(255,255,255,0)"},{"offset":0.7836,"color":"rgba(255,255,255,0)"},{"offset":0.7836,"color":"white"},
         {"offset":0.7931,"color":"white"},{"offset":0.7931,"color":"rgba(255,255,255,0)"},{"offset":0.8039,"color":"rgba(255,255,255,0)"},{"offset":0.8039,"color":"white"},
         {"offset":0.8133,"color":"white"},{"offset":0.8133,"color":"rgba(255,255,255,0)"},{"offset":0.8242,"color":"rgba(255,255,255,0)"},{"offset":0.8242,"color":"white"},
         {"offset":0.8336,"color":"white"},{"offset":0.8336,"color":"rgba(255,255,255,0)"},{"offset":0.8444,"color":"rgba(255,255,255,0)"},{"offset":0.8444,"color":"white"},
         {"offset":0.8538,"color":"white"},{"offset":0.8538,"color":"rgba(255,255,255,0)"},{"offset":0.8647,"color":"rgba(255,255,255,0)"},{"offset":0.8647,"color":"white"},
         {"offset":0.8741,"color":"white"},{"offset":0.8741,"color":"rgba(255,255,255,0)"},{"offset":0.8850,"color":"rgba(255,255,255,0)"},{"offset":0.8850,"color":"white"},
         {"offset":0.8944,"color":"white"},{"offset":0.8944,"color":"rgba(255,255,255,0)"},{"offset":0.9052,"color":"rgba(255,255,255,0)"},{"offset":0.9052,"color":"white"},
         {"offset":0.9146,"color":"white"},{"offset":0.9146,"color":"rgba(255,255,255,0)"},{"offset":0.9255,"color":"rgba(255,255,255,0)"},{"offset":0.9255,"color":"white"},
         {"offset":0.9349,"color":"white"},{"offset":0.9349,"color":"rgba(255,255,255,0)"},{"offset":0.9457,"color":"rgba(255,255,255,0)"},{"offset":0.9457,"color":"white"},
         {"offset":0.9551,"color":"white"},{"offset":0.9551,"color":"rgba(255,255,255,0)"},{"offset":0.9660,"color":"rgba(255,255,255,0)"},{"offset":0.9660,"color":"white"},
         {"offset":0.9754,"color":"white"},{"offset":0.9754,"color":"rgba(255,255,255,0)"},{"offset":0.9863,"color":"rgba(255,255,255,0)"},{"offset":0.9863,"color":"white"},
         {"offset":0.9957,"color":"white"},{"offset":0.9957,"color":"rgba(255,255,255,0)"},{"offset":1,"color":"rgba(255,255,255,0)"}]}},
     "encoding": {"x": {"field": "x", "type": "quantitative"}, "y": {"field": "y", "type": "quantitative"}}},
    {"data": {"values": [{}]}, "mark": {"type": "text", "text": "Flowering", "align": "center", "baseline": "middle", "angle": 90, "fontSize": 24},
     "encoding": {"x": {"datum": 3.84, "type": "quantitative"}, "y": {"datum": 33.8, "type": "quantitative"}}},
    {"data": {"values": [{}]}, "mark": {"type": "text", "text": "B. sagittata", "align": "right", "baseline": "alphabetic", "fontSize": 33, "fontWeight": "bold", "fontStyle": "italic"},
     "encoding": {"x": {"datum": 0.7155, "type": "quantitative"}, "y": {"datum": -15.27, "type": "quantitative"}}},
    {"data": {"values": [{}]}, "mark": {"type": "text", "text": "Size (S", "align": "left", "baseline": "alphabetic", "fontSize": 33, "fontWeight": "bold"},
     "encoding": {"x": {"datum": 0.776, "type": "quantitative"}, "y": {"datum": -15.27, "type": "quantitative"}}},
    {"data": {"values": [{}]}, "mark": {"type": "text", "text": "PCA", "align": "left", "baseline": "alphabetic", "fontSize": 22, "fontWeight": "bold"},
     "encoding": {"x": {"datum": 1.562, "type": "quantitative"}, "y": {"datum": -17.6, "type": "quantitative"}}},
    {"data": {"values": [{}]}, "mark": {"type": "text", "text": ")", "align": "left", "baseline": "alphabetic", "fontSize": 33, "fontWeight": "bold"},
     "encoding": {"x": {"datum": 1.932, "type": "quantitative"}, "y": {"datum": -15.27, "type": "quantitative"}}},
    {"data": {"values": [{}]}, "mark": {"type": "text", "text": "smaller", "align": "center", "baseline": "alphabetic", "fontSize": 24, "fontWeight": "bold", "color": "#595959"},
     "encoding": {"x": {"datum": -1.879, "type": "quantitative"}, "y": {"datum": -16.23, "type": "quantitative"}}},
    {"data": {"values": [{}]}, "mark": {"type": "text", "text": "larger", "align": "center", "baseline": "alphabetic", "fontSize": 24, "fontWeight": "bold", "color": "#595959"},
     "encoding": {"x": {"datum": 3.293, "type": "quantitative"}, "y": {"datum": -16.23, "type": "quantitative"}}}
  ]
}
]
}
